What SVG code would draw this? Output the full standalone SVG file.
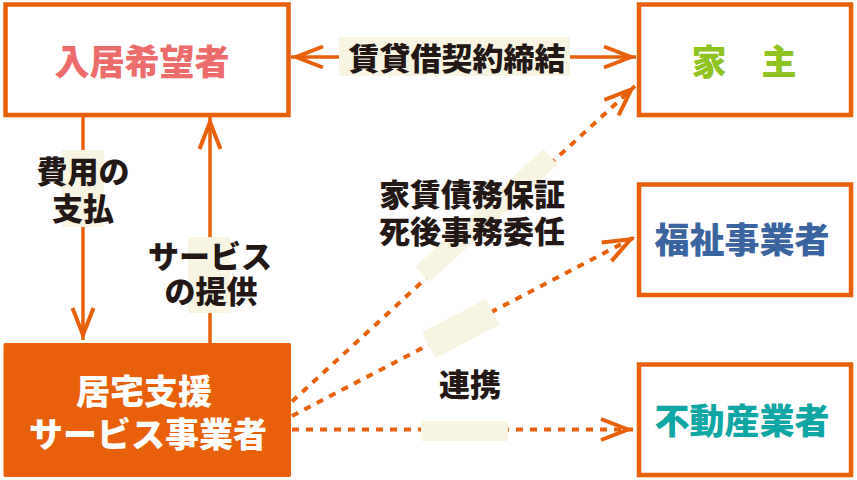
<svg xmlns="http://www.w3.org/2000/svg" width="857" height="480" viewBox="0 0 857 480">
<style>
.box{fill:#ffffff;stroke:#e8600a;stroke-width:4.5}
.t{font-family:"Noto Sans CJK JP","Noto Sans",sans-serif;font-weight:900;text-anchor:middle}
.lbl{fill:#231815;font-size:31px}
.big{font-size:35px}
.bg{fill:#f7f4e1}
.sol{fill:none;stroke:#e8600a;stroke-width:3.5}
.dot{fill:none;stroke:#e8600a;stroke-width:4;stroke-dasharray:7 7}
</style>
<defs>
<marker id="ah" viewBox="-36 -14 40 28" refX="0" refY="0" markerWidth="40" markerHeight="28" markerUnits="userSpaceOnUse" orient="auto-start-reverse" overflow="visible">
<path d="M-32,-10.5 L-5,0 L-32,10.5" fill="none" stroke="#e8600a" stroke-width="4"/>
</marker>
</defs>
<rect width="857" height="480" fill="#ffffff"/>

<g id="connectors">
<line class="sol" x1="291" y1="57" x2="636" y2="57" marker-start="url(#ah)" marker-end="url(#ah)"/>
<line class="sol" x1="83" y1="117" x2="83" y2="340" marker-end="url(#ah)"/>
<line class="sol" x1="210" y1="343" x2="210" y2="117" marker-end="url(#ah)"/>
<line class="dot" x1="292" y1="401.5" x2="635" y2="86" marker-end="url(#ah)"/>
<line class="dot" x1="292" y1="416" x2="635" y2="237" marker-end="url(#ah)"/>
<line class="dot" x1="292" y1="429.5" x2="633" y2="429.5" marker-end="url(#ah)"/>

<rect class="bg" x="339" y="37" width="231" height="39"/>
<rect class="bg" x="62" y="150" width="42" height="77"/>
<rect class="bg" x="188" y="237" width="42" height="76"/>
<rect class="bg" x="182" y="-16" width="174" height="21" transform="translate(292 401.5) rotate(-42.55)"/>
<rect class="bg" x="154" y="-14" width="72" height="29" transform="translate(292 416) rotate(-27.56)"/>
<rect class="bg" x="421" y="421" width="87" height="20"/>

<text class="t lbl" x="457" y="69.5">賃貸借契約締結</text>
<text class="t lbl"><tspan x="83" y="182.5">費用の</tspan><tspan x="83" y="220">支払</tspan></text>
<text class="t lbl"><tspan x="210" y="267.5">サービス</tspan><tspan x="211" y="302.5">の提供</tspan></text>
<text class="t lbl"><tspan x="472" y="205.5">家賃債務保証</tspan><tspan x="472" y="242.5">死後事務委任</tspan></text>
<text class="t lbl" x="470" y="396">連携</text>
</g>

<g id="applicant">
<rect class="box" x="5.5" y="4.5" width="283" height="110.5"/>
<text class="t big" x="142" y="74.5" fill="#ec6c6a">入居希望者</text>
</g>

<g id="landlord">
<rect class="box" x="639" y="4.5" width="212" height="110.5"/>
<text class="t big" x="744" y="75" fill="#8fc31f">家　主</text>
</g>

<g id="welfare">
<rect class="box" x="639" y="184.5" width="212" height="110.5"/>
<text class="t big" x="742" y="252.5" fill="#3b65a0">福祉事業者</text>
</g>

<g id="realestate">
<rect class="box" x="639" y="364.5" width="212" height="110.5"/>
<text class="t big" x="742" y="433.5" fill="#0fa6a6">不動産業者</text>
</g>

<g id="support">
<rect x="3.5" y="343" width="287.5" height="134" rx="2" fill="#e8600a"/>
<text class="t" fill="#ffffff" font-size="34"><tspan x="144" y="404">居宅支援</tspan><tspan x="148" y="447">サービス事業者</tspan></text>
</g>
</svg>
